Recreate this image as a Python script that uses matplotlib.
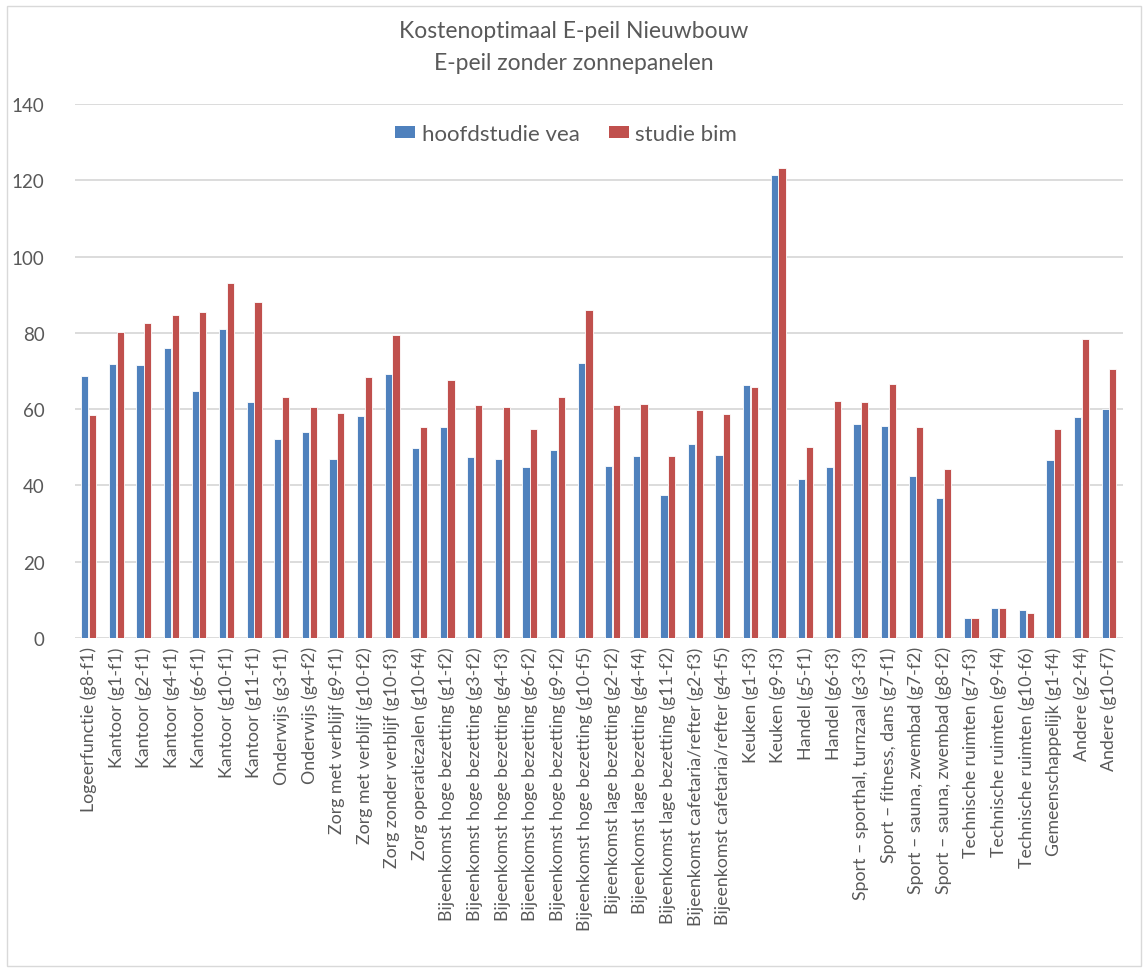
import matplotlib.pyplot as plt
import numpy as np

plt.rcParams['font.family'] = ['Lato', 'DejaVu Sans']

categories = [
    'Logeerfunctie (g8-f1)', 'Kantoor (g1-f1)', 'Kantoor (g2-f1)', 'Kantoor (g4-f1)',
    'Kantoor (g6-f1)', 'Kantoor (g10-f1)', 'Kantoor (g11-f1)', 'Onderwijs (g3-f1)',
    'Onderwijs (g4-f2)', 'Zorg met verblijf (g9-f1)', 'Zorg met verblijf (g10-f2)',
    'Zorg zonder verblijf (g10-f3)', 'Zorg operatiezalen (g10-f4)',
    'Bijeenkomst hoge bezetting (g1-f2)', 'Bijeenkomst hoge bezetting (g3-f2)',
    'Bijeenkomst hoge bezetting (g4-f3)', 'Bijeenkomst hoge bezetting (g6-f2)',
    'Bijeenkomst hoge bezetting (g9-f2)', 'Bijeenkomst hoge bezetting (g10-f5)',
    'Bijeenkomst lage bezetting (g2-f2)', 'Bijeenkomst lage bezetting (g4-f4)',
    'Bijeenkomst lage bezetting (g11-f2)', 'Bijeenkomst cafetaria/refter (g2-f3)',
    'Bijeenkomst cafetaria/refter (g4-f5)', 'Keuken (g1-f3)', 'Keuken (g9-f3)',
    'Handel (g5-f1)', 'Handel (g6-f3)', 'Sport \u2013 sporthal, turnzaal (g3-f3)',
    'Sport \u2013 fitness, dans (g7-f1)', 'Sport \u2013 sauna, zwembad (g7-f2)',
    'Sport \u2013 sauna, zwembad (g8-f2)', 'Technische ruimten (g7-f3)',
    'Technische ruimten (g9-f4)', 'Technische ruimten (g10-f6)',
    'Gemeenschappelijk (g1-f4)', 'Andere (g2-f4)', 'Andere (g10-f7)',
]

hoofdstudie_vea = [68.6, 71.8, 71.7, 76.0, 64.8, 81.1, 61.8, 52.2, 54.1, 46.9,
                   58.1, 69.3, 49.7, 55.4, 47.4, 46.9, 44.9, 49.4, 72.1, 45.1,
                   47.6, 37.5, 50.8, 47.9, 66.3, 121.5, 41.8, 44.9, 56.0, 55.5,
                   42.6, 36.6, 5.2, 7.9, 7.4, 46.7, 57.9, 60.1]
studie_bim = [58.5, 80.2, 82.7, 84.7, 85.5, 93.1, 88.0, 63.3, 60.6, 59.0,
              68.3, 79.5, 55.4, 67.7, 61.0, 60.6, 54.8, 63.1, 85.9, 61.2,
              61.3, 47.6, 59.7, 58.6, 65.7, 123.1, 50.0, 62.2, 62.0, 66.6,
              55.4, 44.4, 5.2, 7.9, 6.6, 54.8, 78.4, 70.6]

blue = '#4F81BD'
red = '#C0504D'
grey = '#595959'

x = np.arange(len(categories))
width = 0.26

fig = plt.figure(figsize=(11.48, 9.70), dpi=100)
ax = fig.add_axes([0.0653, 0.3412, 0.9127, 0.5506])

ax.bar(x - 0.14, hoofdstudie_vea, width, color=blue, edgecolor='white', linewidth=0.6,
       label='hoofdstudie vea', zorder=3)
ax.bar(x + 0.14, studie_bim, width, color=red, edgecolor='white', linewidth=0.6,
       label='studie bim', zorder=3)

ax.set_ylim(0, 140)
ax.set_xlim(-0.5, len(categories) - 0.5)
ax.set_yticks(np.arange(0, 141, 20))
ax.yaxis.grid(True, color='#D9D9D9', linewidth=1.3, zorder=0)
for s in ax.spines.values():
    s.set_visible(False)
ax.tick_params(axis='both', length=0, colors=grey)
ax.tick_params(axis='y', labelsize=13.5, pad=22)
ax.set_xticks(x)
ax.set_xticklabels(categories, rotation=90, fontsize=12.8, color=grey)
ax.tick_params(axis='x', pad=6)

fig.text(0.5, 0.968, 'Kostenoptimaal E-peil Nieuwbouw', ha='center', va='center',
         fontsize=16.5, color=grey)
fig.text(0.5, 0.935, 'E-peil zonder zonnepanelen', ha='center', va='center',
         fontsize=16.5, color=grey)

leg = ax.legend(loc='center', bbox_to_anchor=(0.469, 0.944), ncol=2, frameon=False,
                fontsize=16, handlelength=0.9, handleheight=0.45, handletextpad=0.3,
                columnspacing=1.3)
for t in leg.get_texts():
    t.set_color(grey)
for h in leg.legend_handles:
    h.set_linewidth(0)

border = plt.Rectangle((0.006, 0.003), 0.988, 0.99, transform=fig.transFigure,
                       fill=False, edgecolor='#D9D9D9', linewidth=1)
fig.add_artist(border)

fig.savefig('out.png', dpi=100)
